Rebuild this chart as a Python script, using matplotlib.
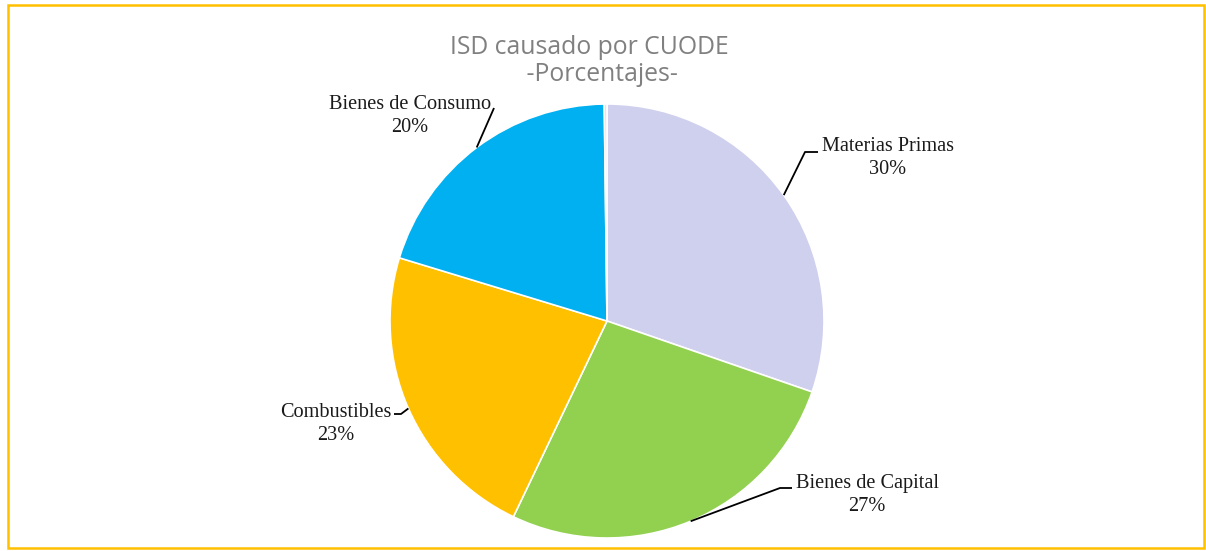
import numpy as np
import matplotlib.pyplot as plt
from matplotlib.patches import Rectangle

labels = ['Materias Primas', 'Bienes de Capital', 'Combustibles', 'Bienes de Consumo', '']
values = [30.3, 26.8, 22.6, 20.1, 0.2]
colors = ['#CFCFEE', '#92D050', '#FFC000', '#00B0F0', '#DCE0EE']

W, H = 1206, 551
fig = plt.figure(figsize=(W / 100, H / 100), dpi=100)
ax = fig.add_axes([0, 0, 1, 1])

cx, cy, r = 607, H - 321, 217
wedges, _ = ax.pie(values, colors=colors, startangle=90, counterclock=False,
                   center=(cx, cy), radius=r, frame=True,
                   wedgeprops=dict(edgecolor='white', linewidth=1.2))
ax.set_xlim(0, W)
ax.set_ylim(0, H)
ax.set_aspect('equal')
ax.axis('off')

# label text position, elbow, stub end (pixels from top-left)
layout = [
    ((888, 158), (805, 152), (818, 152)),
    ((867, 495), (780, 488), (792, 488)),
    ((336, 424), (401, 414), (394, 414)),
    ((410, 116), (494, 108), (494, 108)),
]

serif = 'Liberation Serif'
for w, lab, v, (txt, elb, stub) in zip(wedges, labels, values, layout):
    mid = np.deg2rad((w.theta1 + w.theta2) / 2)
    ex, ey = cx + r * np.cos(mid), cy + r * np.sin(mid)
    ax.plot([ex, elb[0], stub[0]], [ey, H - elb[1], H - stub[1]],
            color='black', lw=1.3, solid_capstyle='butt')
    ax.text(txt[0], H - txt[1], f'{lab}\n{round(v):.0f}%', ha='center', va='center',
            family=serif, fontsize=14.6, color='#1a1a1a', linespacing=1.35)

ax.text(589, H - 61, 'ISD causado por CUODE\n    -Porcentajes-', ha='center', va='center',
        family='Open Sans', fontsize=17.8, color='#808080', linespacing=1.15)

fig.patches.append(Rectangle((8 / W, 3 / H), 1196 / W, 543 / H, transform=fig.transFigure,
                             fill=False, edgecolor='#FFC000', linewidth=1.8))

fig.savefig('out.png', dpi=100)
